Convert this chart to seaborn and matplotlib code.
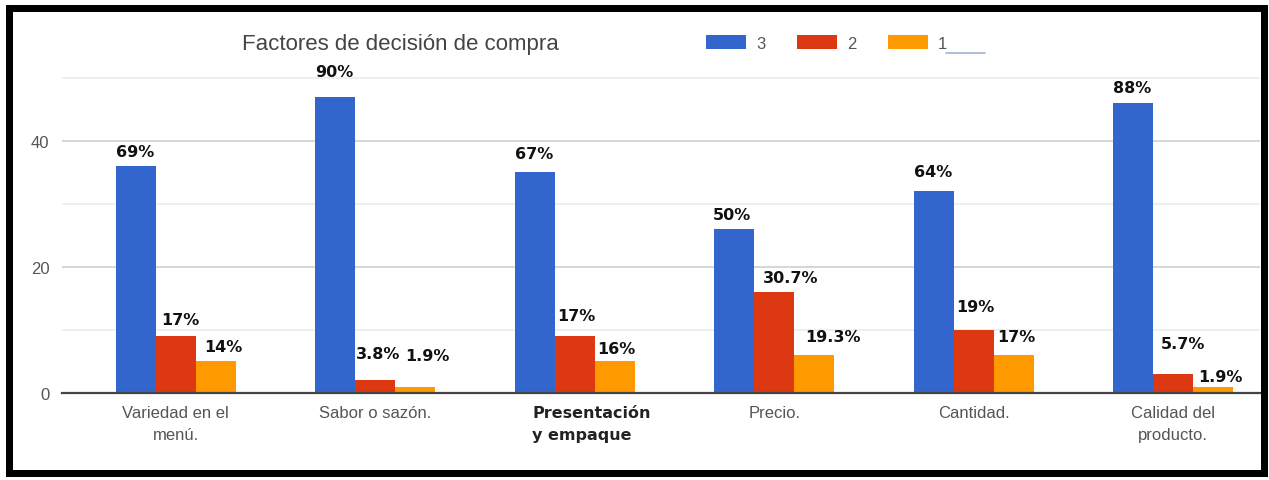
import matplotlib
matplotlib.use("Agg")
import matplotlib.pyplot as plt
import matplotlib.transforms as mtransforms
from matplotlib.patches import Patch, Rectangle
from matplotlib.lines import Line2D
import pandas as pd
import seaborn as sns

# --- data -------------------------------------------------------------
factores = [
    "Variedad en el\nmenú.",
    "Sabor o sazón.",
    "Presentación\ny empaque",
    "Precio.",
    "Cantidad.",
    "Calidad del\nproducto.",
]
niveles = ["3", "2", "1"]
valores_3 = [36, 47, 35, 26, 32, 46]
valores_2 = [9, 2, 9, 16, 10, 3]
valores_1 = [5, 1, 5, 6, 6, 1]
etiquetas_3 = ["69%", "90%", "67%", "50%", "64%", "88%"]
etiquetas_2 = ["17%", "3.8%", "17%", "30.7%", "19%", "5.7%"]
etiquetas_1 = ["14%", "1.9%", "16%", "19.3%", "17%", "1.9%"]

# label placement, in pixels: horizontal shift from the bar's left edge
# and vertical distance from the bar top to the label centre
desplazamiento = {
    "3": [0, 0, 0, -2, 0, 0],
    "2": [5, 1, 2, 9, 2, 8],
    "1": [9, 10, 3, 11, 4, 5],
}
elevacion = {
    "3": [15, 25, 19, 15, 20, 16],
    "2": [17, 27, 21, 15, 23, 31],
    "1": [15, 31, 13, 19, 19, 10],
}

colores = {"3": "#3366CC", "2": "#DC3912", "1": "#FF9900"}

df = pd.DataFrame({
    "factor": factores * 3,
    "nivel": ["3"] * 6 + ["2"] * 6 + ["1"] * 6,
    "valor": valores_3 + valores_2 + valores_1,
})
etiquetas = {"3": etiquetas_3, "2": etiquetas_2, "1": etiquetas_1}

# --- figure -----------------------------------------------------------
sns.set_theme(style="white")
plt.rcParams["font.family"] = ["Liberation Sans", "DejaVu Sans"]

W, H = 1269, 481
fig = plt.figure(figsize=(W / 100, H / 100), dpi=100)
fig.patch.set_facecolor("white")


def px_box(left, top, right, bottom):
    return [left / W, 1 - bottom / H, (right - left) / W, (bottom - top) / H]


ax = fig.add_axes(px_box(62, 60, 1260, 394))

sns.barplot(
    data=df, x="factor", y="valor", hue="nivel", hue_order=niveles,
    palette=colores, width=0.6, gap=0, saturation=1, linewidth=0,
    legend=False, ax=ax,
)

ax.set_xlim(-0.57, 5.435)
ax.set_ylim(0, 53)
ax.set_yticks([0, 20, 40])
ax.set_yticks([10, 30, 50], minor=True)
ax.grid(axis="y", which="major", color="#cccccc", linewidth=1.1)
ax.grid(axis="y", which="minor", color="#ebebeb", linewidth=1.1)
ax.grid(axis="x", visible=False)
ax.set_axisbelow(True)
for side in ("top", "right", "left"):
    ax.spines[side].set_visible(False)
ax.spines["bottom"].set_color("#444444")
ax.spines["bottom"].set_linewidth(1.6)
ax.set_xlabel("")
ax.set_ylabel("")

ax.tick_params(axis="x", which="both", length=0, pad=9,
               labelsize=12, labelcolor="#555555")
ax.tick_params(axis="y", which="both", length=0, pad=9,
               labelsize=12, labelcolor="#555555")
for t in ax.get_xticklabels():
    t.set_linespacing(1.55)

# bold, left-aligned two-line label under the third group
pres = ax.get_xticklabels()[2]
pres.set_fontfamily("DejaVu Sans")
pres.set_fontweight("bold")
pres.set_fontsize(11.5)
pres.set_color("#222222")
pres.set_multialignment("left")
pres.set_transform(pres.get_transform()
                   + mtransforms.ScaledTranslation(0.17, 0, fig.dpi_scale_trans))

# percentage labels above each bar
for nivel, cont in zip(niveles, ax.containers):
    for i, bar in enumerate(cont):
        ax.annotate(
            etiquetas[nivel][i],
            xy=(bar.get_x(), bar.get_height()),
            xytext=(desplazamiento[nivel][i], elevacion[nivel][i]),
            textcoords="offset pixels",
            ha="left", va="center", fontsize=11.5, fontweight="bold",
            color="#111111", family="DejaVu Sans",
        )

# title and legend across the top
fig.text(400 / W, 1 - 45 / H, "Factores de decisión de compra",
         ha="center", va="center", fontsize=16, color="#444444")

handles = [Patch(facecolor=colores[n], edgecolor="none") for n in niveles]
fig.legend(
    handles, niveles, loc="center left",
    bbox_to_anchor=(706 / W, 1 - 44 / H), ncol=3, frameon=False,
    fontsize=12, labelcolor="#555555", handlelength=2.4, handleheight=0.85,
    handletextpad=0.6, columnspacing=1.9, borderpad=0, borderaxespad=0,
)
fig.add_artist(Line2D([946 / W, 985 / W], [1 - 54 / H, 1 - 54 / H],
                      color="#9fb3cf", linewidth=1.2))

# heavy black frame around the whole chart
fig.add_artist(Rectangle((8.5 / W, 1 - 474 / H), (1263.5 - 8.5) / W,
                         (474 - 8.5) / H, transform=fig.transFigure,
                         fill=False, edgecolor="black", linewidth=7 * 0.72))

fig.savefig("out.png", dpi=100, facecolor="white")
